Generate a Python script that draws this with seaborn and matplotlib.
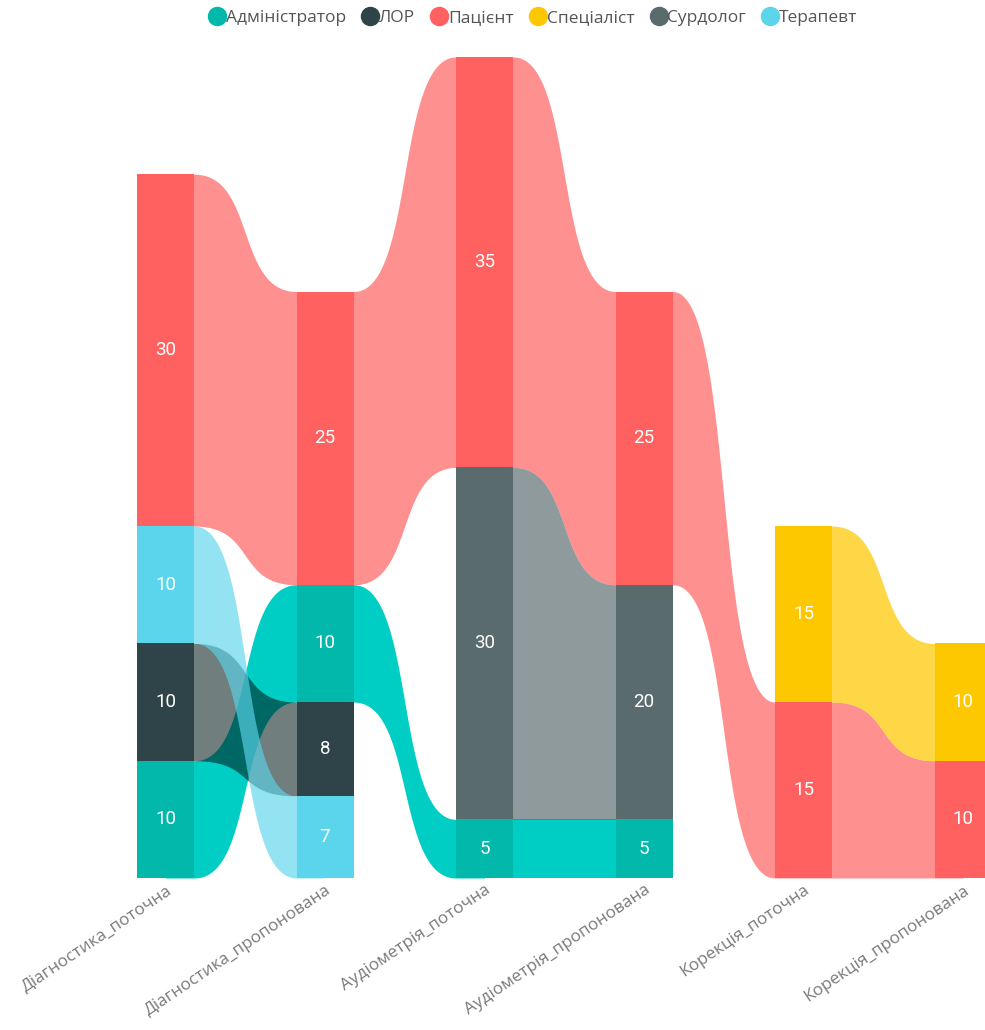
import matplotlib
matplotlib.use("Agg")
import matplotlib.pyplot as plt
import numpy as np
import pandas as pd
import seaborn as sns
from matplotlib.lines import Line2D

stages = [
    "Діагностика_поточна",
    "Діагностика_пропонована",
    "Аудіометрія_поточна",
    "Аудіометрія_пропонована",
    "Корекція_поточна",
    "Корекція_пропонована",
]
series = ["Адміністратор", "ЛОР", "Пацієнт", "Спеціаліст", "Сурдолог", "Терапевт"]

# per stage, listed from the top of the stack down
stack_series = [
    ["Пацієнт", "Терапевт", "ЛОР", "Адміністратор"],
    ["Пацієнт", "Адміністратор", "ЛОР", "Терапевт"],
    ["Пацієнт", "Сурдолог", "Адміністратор"],
    ["Пацієнт", "Сурдолог", "Адміністратор"],
    ["Спеціаліст", "Пацієнт"],
    ["Спеціаліст", "Пацієнт"],
]
stack_values = [
    [30, 10, 10, 10],
    [25, 10, 8, 7],
    [35, 30, 5],
    [25, 20, 5],
    [15, 15],
    [10, 10],
]

bar_colors = {
    "Адміністратор": "#01B8AA",
    "ЛОР": "#2E4448",
    "Пацієнт": "#FF6161",
    "Спеціаліст": "#FEC800",
    "Сурдолог": "#5A6B6E",
    "Терапевт": "#5BD5EB",
}
# ribbon colour and alpha per series
ribbon_colors = {
    "Адміністратор": ("#00CEC4", 1.0),
    "ЛОР": ("#00191A", 0.56),
    "Пацієнт": ("#FF6161", 0.7),
    "Спеціаліст": ("#FEC800", 0.72),
    "Сурдолог": ("#5A6B6E", 0.68),
    "Терапевт": ("#5BD5EB", 0.65),
}


def build_frame() -> pd.DataFrame:
    rows = []
    for stage, names, values in zip(stages, stack_series, stack_values):
        top = sum(values)
        for level, (name, value) in enumerate(zip(names, values)):
            rows.append({
                "stage": stage, "series": name, "value": value,
                "level": level, "top": top, "bottom": top - value,
            })
            top -= value
    return pd.DataFrame(rows)


def draw_ribbons(ax, frame: pd.DataFrame, bar_w: float) -> None:
    u = np.linspace(0, 1, 300)
    k = 0.6
    xfrac = 3 * k * u * (1 - u) ** 2 + 3 * (1 - k) * u ** 2 * (1 - u) + u ** 3
    s = 3 * u ** 2 - 2 * u ** 3
    # flat stubs reaching under the bars so no seam shows at the bar edges
    s = np.concatenate([[0], s, [1]])
    for i in range(len(stages) - 1):
        left = frame[frame["stage"] == stages[i]].set_index("series")
        right = frame[frame["stage"] == stages[i + 1]].set_index("series")
        x0, x1 = i + bar_w / 2, i + 1 - bar_w / 2
        xs = np.concatenate([[i], x0 + (x1 - x0) * xfrac, [i + 1]])
        for name in series:
            if name not in left.index or name not in right.index:
                continue
            a, b = left.loc[name], right.loc[name]
            lo = a["bottom"] + (b["bottom"] - a["bottom"]) * s
            hi = a["top"] + (b["top"] - a["top"]) * s
            color, alpha = ribbon_colors[name]
            ax.fill_between(xs, lo, hi, color=color, alpha=alpha, lw=0, zorder=0.5)


def main() -> None:
    sns.set_theme(style="white")
    plt.rcParams["font.family"] = ["Open Sans", "DejaVu Sans"]

    frame = build_frame()
    bar_w = 57 / 159.5

    fig = plt.figure(figsize=(9.85, 10.3), dpi=100)
    ax = fig.add_axes([0, 152 / 1030, 1, 878 / 1030])

    draw_ribbons(ax, frame, bar_w)

    for level in sorted(frame["level"].unique()):
        sub = frame[frame["level"] == level]
        sns.barplot(
            data=sub, x="stage", y="top", hue="series", order=stages,
            hue_order=series, palette=bar_colors, dodge=False, width=bar_w,
            saturation=1, linewidth=0, errorbar=None, legend=False, ax=ax,
        )

    for _, row in frame.iterrows():
        ax.text(
            stages.index(row["stage"]), (row["top"] + row["bottom"]) / 2,
            str(row["value"]), color="white", ha="center", va="center",
            fontsize=13.5, family="Roboto", zorder=5,
        )

    ax.set_xlim(-165.5 / 159.5, (985 - 165.5) / 159.5)
    ax.set_ylim(0, 878 / 11.73)
    ax.set_xlabel("")
    ax.set_ylabel("")
    ax.set_yticks([])
    ax.set_xticks(range(len(stages)))
    ax.set_xticklabels(
        stages, rotation=34, ha="right", va="top", rotation_mode="anchor",
        color="#7a7a7a", fontsize=12.3,
    )
    ax.tick_params(axis="x", length=0, pad=3)
    sns.despine(ax=ax, left=True, bottom=True)

    handles = [
        Line2D([], [], marker="o", ls="", markersize=13,
               markerfacecolor=bar_colors[n], markeredgecolor=bar_colors[n])
        for n in series
    ]
    fig.legend(
        handles, series, loc="center", bbox_to_anchor=(0.541, 1 - 18 / 1030),
        ncol=6, frameon=False, handletextpad=0.0, columnspacing=0.9,
        fontsize=12.5, labelcolor="#555555", handlelength=1.0,
    )

    fig.savefig("out.png", dpi=100)
    plt.close(fig)


if __name__ == "__main__":
    main()
